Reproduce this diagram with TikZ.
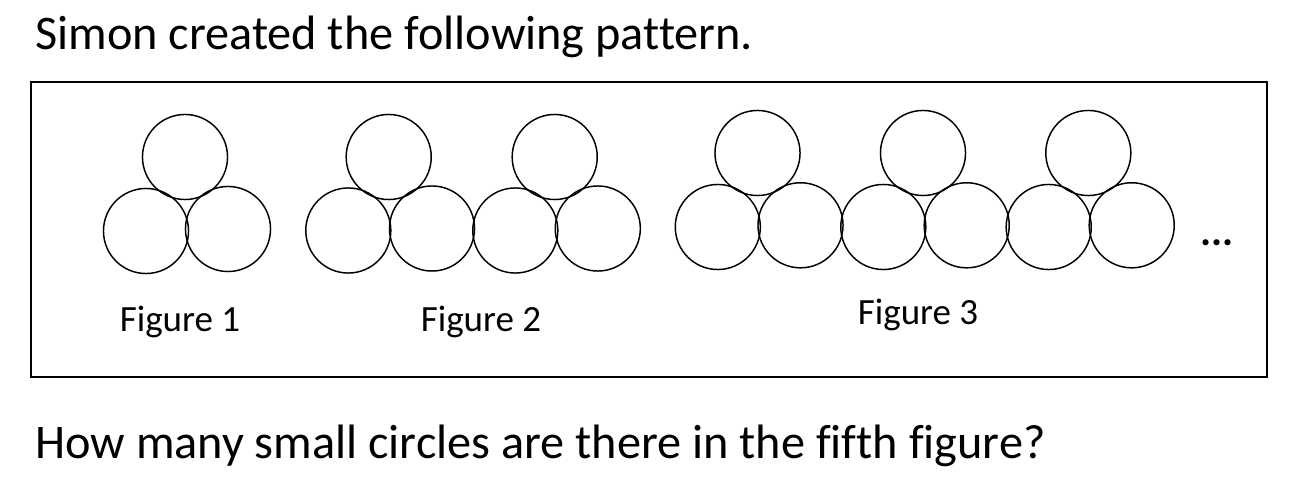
\documentclass[tikz,border=0pt]{standalone}
\usepackage{fontspec}
\setmainfont{Carlito}[Ligatures=NoCommon]
\begin{document}
\begin{tikzpicture}[x=0.75pt,y=-0.75pt,
  ball/.style={circle, draw=black, line width=1.1pt, minimum size=63.8pt, inner sep=0pt},
  bigtext/.style={anchor=base west, inner sep=0pt, font=\fontsize{36.2}{40}\selectfont},
  figlabel/.style={anchor=base, inner sep=0pt, font=\fontsize{27.75}{32}\selectfont}]
\useasboundingbox (0,0) rectangle (1312,484);
\node[bigtext] (title) at (35,50) {Simon created the following pattern.};
\node[bigtext] (question) at (35,458) {How many small circles are there in the fifth figure?};
\draw[line width=1.9pt] (31,82) rectangle (1267,377);
% Figure 1
\node[ball] (a1) at (185,157) {};
\node[ball] (a2) at (146,231) {};
\node[ball] (a3) at (228,229) {};
% Figure 2
\node[ball] (b1) at (388.7,157) {};
\node[ball] (b2) at (348.3,230.5) {};
\node[ball] (b3) at (432,228.5) {};
\node[ball] (b4) at (554.7,157) {};
\node[ball] (b5) at (515.3,230.5) {};
\node[ball] (b6) at (597.8,228.5) {};
% Figure 3
\node[ball] (c1) at (757.5,153) {};
\node[ball] (c2) at (717.8,227) {};
\node[ball] (c3) at (800.5,225.3) {};
\node[ball] (c4) at (923,153) {};
\node[ball] (c5) at (883.3,227) {};
\node[ball] (c6) at (966.7,225.3) {};
\node[ball] (c7) at (1088.3,153) {};
\node[ball] (c8) at (1048.7,227) {};
\node[ball] (c9) at (1131.7,225.3) {};
\node[anchor=base west, inner sep=0pt, font=\bfseries\fontsize{31}{34}\selectfont] (dots) at (1200,246) {...};
\node[figlabel] (l1) at (180,331) {Figure 1};
\node[figlabel] (l2) at (481,331) {Figure 2};
\node[figlabel] (l3) at (918,325) {Figure 3};
\end{tikzpicture}
\end{document}
